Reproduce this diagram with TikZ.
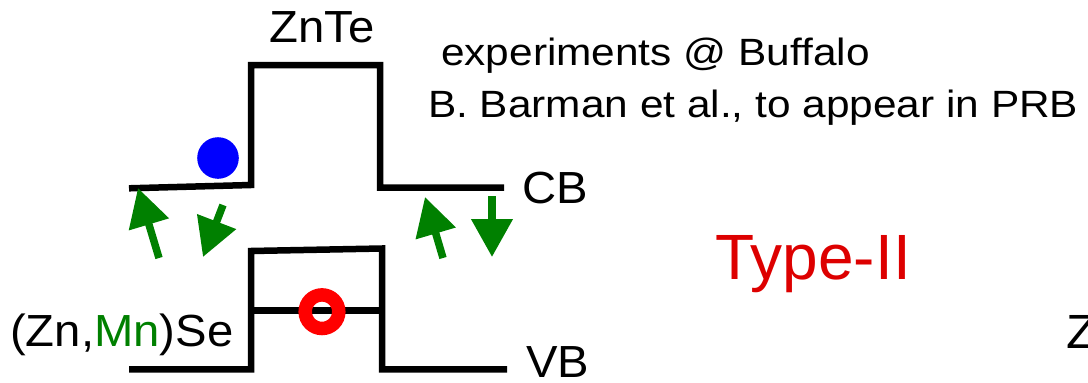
\documentclass[tikz,border=0pt]{standalone}
\usepackage{fontspec}
\setmainfont{Liberation Sans}
\newfontfamily\lblfont{Liberation Sans}[FakeStretch=1.05]
\newfontfamily\notefont{Liberation Sans}[FakeStretch=1.115]
\usetikzlibrary{arrows.meta}
\definecolor{arrgreen}{RGB}{0,128,0}
\definecolor{typered}{RGB}{221,0,0}
\definecolor{holered}{RGB}{255,0,0}
\definecolor{elblue}{RGB}{0,0,255}
\begin{document}
\begin{tikzpicture}[x=1pt,y=-1pt,
  band/.style={line width=6.5pt, line join=miter},
  garrow/.style={arrgreen, line width=7.5pt, -{Triangle[length=38pt,width=40pt]}},
  lbl/.style={inner sep=0pt, anchor=base west, font=\lblfont\fontsize{45}{54}\selectfont},
  note/.style={inner sep=0pt, anchor=base west, font=\notefont\fontsize{38}{46}\selectfont},
  bigred/.style={inner sep=0pt, anchor=base west, text=typered, font=\fontsize{64}{76}\selectfont}]
\useasboundingbox (0,0) rectangle (1088,383);

% conduction band
\draw[band] (129,188.3) -- (251,185) -- (251,65) -- (380,65) -- (380,187.7) -- (504,187.7);
% valence band
\draw[band] (129,369.3) -- (251,369.3) -- (251,251) -- (382,248.5) -- (382,369.3) -- (507,369.3);
\draw[band] (251,310.3) -- (382,310.3);

% electron and hole
\fill[elblue] (218,158) circle (20.8pt);
\draw[holered, line width=13.5pt] (322,311.7) circle (16.8pt);

% arrows
\coordinate (a1s) at (159,258); \coordinate (a1e) at (138,188);
\coordinate (a2s) at (223,205); \coordinate (a2e) at (203,257);
\coordinate (a3s) at (443,258); \coordinate (a3e) at (425,197);
\coordinate (a4s) at (492,196); \coordinate (a4e) at (492,257);
\draw[garrow] (a1s) -- (a1e);
\draw[garrow] (a2s) -- (a2e);
\draw[garrow] (a3s) -- (a3e);
\draw[garrow] (a4s) -- (a4e);

% labels
\node[lbl, anchor=base] (znte) at (322,42) {ZnTe};
\node[note] (exp) at (441,65) {experiments @ Buffalo};
\node[note] (ref) at (428,117) {B. Barman et al., to appear in PRB};
\node[lbl] (cb) at (522,203) {CB};
\node[lbl] (vb) at (526,377) {VB};
\node[lbl] (znmnse) at (10,346) {(Zn,\textcolor{arrgreen}{Mn})Se};
\node[bigred] (type) at (715,279) {Type-II};
\node[lbl, font=\lblfont\fontsize{48}{56}\selectfont] (zcut) at (1066,348) {Z};
\end{tikzpicture}
\end{document}
